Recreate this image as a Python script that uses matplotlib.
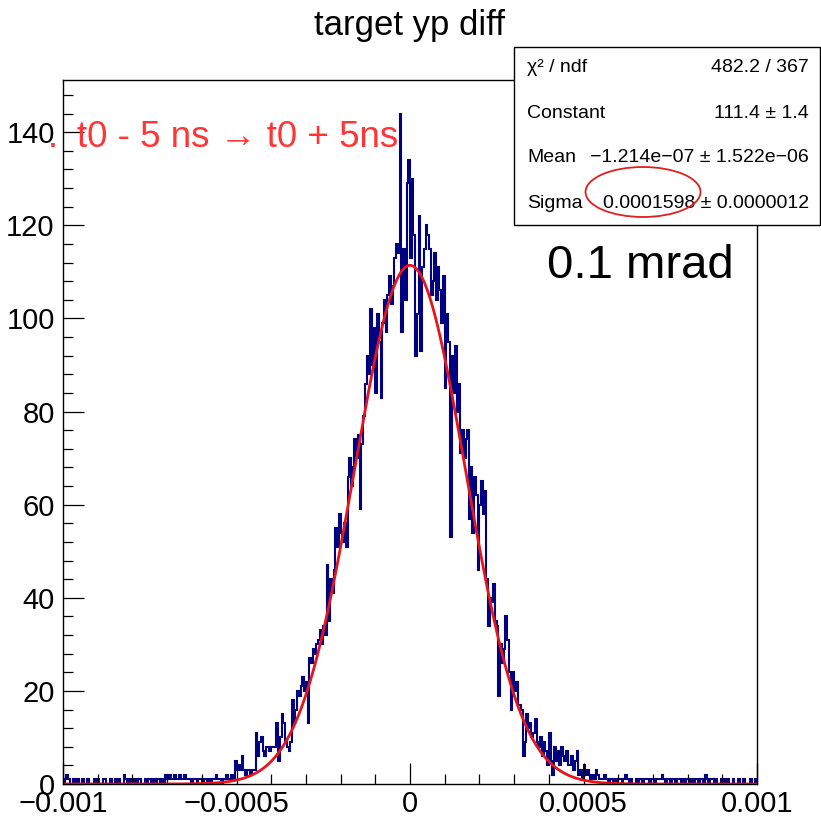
import numpy as np
import matplotlib
matplotlib.use('Agg')
import matplotlib.pyplot as plt
from matplotlib.patches import Rectangle, Ellipse
from matplotlib.ticker import FixedLocator, MultipleLocator

plt.rcParams['font.family'] = ['Liberation Sans', 'DejaVu Sans']

# histogram: 400 bins from -0.001 to 0.001
x_lo, x_hi = -0.001, 0.001
counts = [
  0, 1, 2, 1, 0, 0, 1, 0, 1, 0,
  0, 1, 0, 0, 1, 0, 0, 0, 1, 0,
  1, 0, 0, 1, 1, 0, 0, 1, 0, 0,
  1, 0, 1, 0, 0, 2, 1, 0, 1, 0,
  0, 1, 0, 1, 1, 0, 0, 1, 0, 1,
  1, 0, 1, 0, 1, 1, 0, 1, 0, 2,
  1, 2, 1, 1, 2, 1, 1, 2, 1, 1,
  2, 1, 1, 1, 0, 1, 1, 0, 1, 1,
  0, 1, 1, 0, 1, 0, 1, 1, 2, 1,
  1, 0, 1, 1, 2, 1, 1, 2, 1, 5,
  3, 4, 3, 6, 3, 2, 3, 3, 2, 3,
  3, 11, 6, 9, 10, 7, 6, 8, 8, 7,
  8, 8, 8, 13, 5, 10, 15, 13, 9, 8,
  7, 9, 18, 13, 16, 20, 19, 21, 23, 20,
  22, 13, 27, 26, 29, 28, 30, 31, 33, 30,
  34, 32, 47, 35, 44, 41, 46, 55, 51, 58,
  54, 52, 56, 51, 66, 70, 64, 68, 74, 70,
  75, 59, 73, 79, 86, 92, 88, 102, 90, 98,
  84, 101, 95, 83, 99, 104, 97, 105, 109, 103,
  107, 113, 116, 114, 144, 97, 115, 104, 129, 134,
  113, 130, 118, 92, 101, 122, 93, 111, 115, 120,
  118, 115, 105, 108, 114, 104, 111, 106, 99, 109,
  85, 101, 95, 53, 92, 84, 94, 80, 86, 71,
  76, 70, 74, 76, 57, 68, 54, 66, 62, 46,
  60, 65, 58, 63, 44, 34, 40, 39, 43, 35,
  34, 19, 30, 26, 29, 36, 31, 24, 16, 24,
  20, 22, 17, 17, 16, 6, 9, 15, 12, 13,
  10, 11, 14, 9, 8, 10, 6, 9, 7, 4,
  11, 5, 2, 8, 5, 7, 4, 8, 6, 5,
  7, 4, 4, 6, 3, 5, 7, 2, 3, 1,
  4, 2, 3, 2, 1, 2, 1, 3, 2, 1,
  1, 1, 2, 1, 0, 1, 1, 0, 1, 0,
  1, 1, 0, 1, 2, 1, 0, 1, 0, 0,
  1, 0, 1, 1, 0, 1, 1, 1, 0, 1,
  1, 0, 1, 1, 1, 2, 1, 0, 1, 1,
  0, 1, 1, 0, 1, 1, 0, 1, 0, 1,
  1, 0, 1, 0, 1, 1, 0, 1, 1, 0,
  2, 1, 0, 1, 1, 0, 1, 0, 0, 1,
  0, 1, 0, 1, 0, 0, 1, 0, 0, 1,
  0, 0, 1, 0, 0, 0, 1, 0, 0, 1,
]

# gaussian fit parameters (stats box)
fit_const, fit_mean, fit_sigma = 111.4, -1.214e-07, 0.0001598
stat_names = ['\u03c7\u00b2 / ndf', 'Constant', 'Mean', 'Sigma']
stat_values = ['482.2 / 367', '111.4 \u00b1 1.4',
               '\u22121.214e\u221207 \u00b1 1.522e\u221206',
               '0.0001598 \u00b1 0.0000012']

xtick_vals = [-0.001, -0.0005, 0, 0.0005, 0.001]
xtick_labels = ['\u22120.001', '\u22120.0005', '0', '0.0005', '0.001']

W, H = 821, 818
fig = plt.figure(figsize=(W / 100, H / 100), dpi=100)

def fx(px):
  return px / W

def fy(py):
  return 1 - py / H

ax = fig.add_axes([fx(63), fy(784), fx(757 - 63), (784 - 80) / H])

edges = np.linspace(x_lo, x_hi, len(counts) + 1)
ax.stairs(counts, edges, color='#000080', lw=1.5)

xs = np.linspace(x_lo, x_hi, 1200)
ax.plot(xs, fit_const * np.exp(-0.5 * ((xs - fit_mean) / fit_sigma) ** 2),
        color='#e8141c', lw=2.0)

ax.set_xlim(x_lo, x_hi)
ax.set_ylim(0, max(counts) * 1.05)

ax.xaxis.set_major_locator(FixedLocator(xtick_vals))
ax.set_xticklabels(xtick_labels)
ax.xaxis.set_minor_locator(MultipleLocator(0.0001))
ax.yaxis.set_major_locator(MultipleLocator(20))
ax.yaxis.set_minor_locator(MultipleLocator(4))
ax.tick_params(which='both', direction='in', top=False, right=False, width=0.9, labelsize=21)
ax.tick_params(which='major', length=15)
ax.tick_params(which='minor', length=7.5)
ax.tick_params(axis='x', pad=4)
ax.tick_params(axis='y', pad=6)
for s in ax.spines.values():
  s.set_linewidth(1.0)

# title
fig.text(fx(409), fy(35), 'target yp diff', ha='center', va='baseline', fontsize=25)

# red annotation
fig.text(fx(48), fy(147), '.', color='#ff3535', ha='left', va='baseline', fontsize=26)
fig.text(fx(77), fy(147), 't0 - 5 ns \u2192 t0 + 5ns', color='#ff3535',
         ha='left', va='baseline', fontsize=26.5)

# stats box
box = Rectangle((fx(514), fy(225)), (820 - 514) / W, (225 - 47) / H,
                transform=fig.transFigure, facecolor='white', edgecolor='black',
                lw=1.0, zorder=5)
fig.add_artist(box)
for name, val, py in zip(stat_names, stat_values, [68, 114, 158, 203]):
  fig.text(fx(527), fy(py), name, ha='left', va='center', fontsize=14, zorder=6)
  fig.text(fx(809), fy(py), val, ha='right', va='center', fontsize=14, zorder=6)

ell = Ellipse((fx(643), fy(192)), 115 / W, 50 / H, transform=fig.transFigure,
              fill=False, edgecolor='#e0201e', lw=1.3, zorder=7)
fig.add_artist(ell)

fig.text(fx(547), fy(278), '0.1 mrad', ha='left', va='baseline', fontsize=34)

fig.savefig('out.png', dpi=100)
